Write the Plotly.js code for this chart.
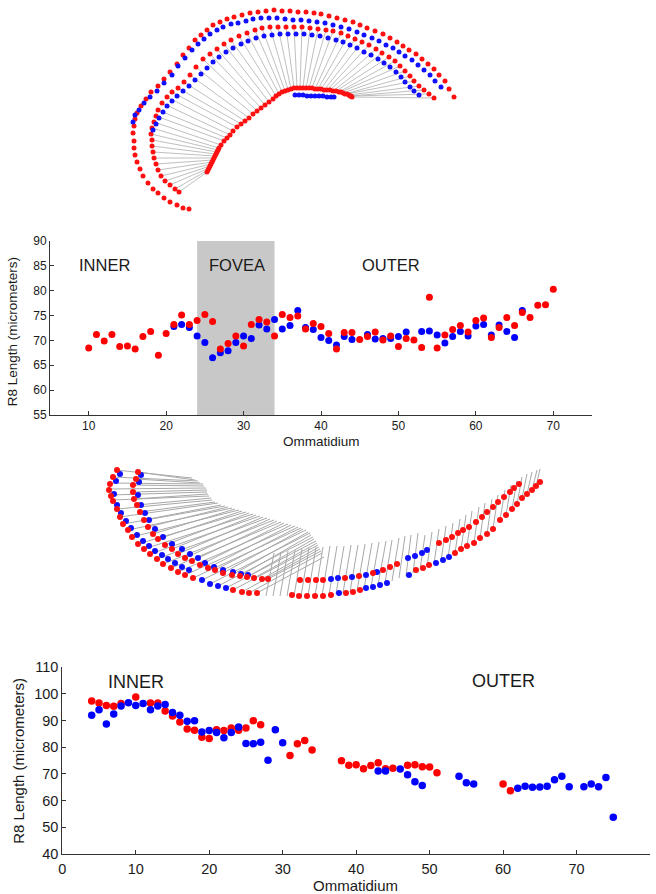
<!DOCTYPE html>
<html><head><meta charset="utf-8">
<script src="https://cdn.plot.ly/plotly-3.0.1.min.js"></script>
<style>html,body{margin:0;padding:0;background:#fff;} #chart{width:656px;height:894px;}</style>
</head><body><div id="chart"></div>
<script>
// ---------- Chart 1 (top scatter) ----------
const c1RedX = [10,11,12,13,14,15,16,17,18,19,20,21,22,23,24,25,26,27,28,29,30,31,32,33,34,35,36,37,38,39,40,41,42,43,44,45,46,47,48,49,50,51,52,53,54,55,56,57,58,59,60,61,62,63,64,65,66,67,68,69,70];
const c1RedY = [68.5,71.2,69.9,71.2,68.8,68.9,68.3,70.8,71.8,67.0,71.4,73.2,75.1,73.2,74.0,75.2,73.8,68.3,69.4,70.9,68.9,73.2,74.2,73.7,70.9,75.2,74.6,74.9,72.3,73.4,72.8,71.4,68.3,71.6,71.6,70.2,70.8,71.7,70.1,70.9,68.8,70.4,70.1,68.6,78.7,68.5,71.1,72.2,73.0,71.7,74.0,74.5,70.6,72.6,74.6,73.0,75.6,74.6,77.1,77.2,80.3];
const c1BlueX = [21,22,23,24,25,26,27,28,29,30,31,32,33,34,35,36,37,38,39,40,41,42,43,44,46,47,48,49,50,51,53,54,55,56,57,58,59,60,61,62,63,64,65,66];
const c1BlueY = [72.8,73.2,72.6,70.9,69.6,66.5,67.5,67.9,69.6,70.9,70.4,73.1,72.3,74.2,72.3,73.0,76.0,72.6,72.2,70.6,70.0,69.1,70.8,70.2,71.2,70.3,70.4,70.4,70.8,71.7,71.8,71.9,71.1,69.5,70.8,71.8,70.9,72.9,73.2,71.1,73.1,71.8,70.6,76.0];
const c1Ticks = [10,20,30,40,50,60,70];
const c1Fovea = [24,34];

// ---------- Chart 2 (bottom scatter) ----------
const c2RedX = [4,5,6,7,8,10,12,13,14,15,16,17,18,19,20,21,22,23,24,25,26,27,31,32,33,34,38,39,40,41,42,43,44,45,47,48,49,50,51,60,61];
const c2RedY = [97.3,96.5,95.6,95.3,96.3,98.8,96.5,96.5,93.5,91.7,89.4,86.8,86.3,83.7,83.2,86.5,86.2,87.2,86.3,87.2,89.9,88.4,76.9,81.3,82.5,78.9,74.9,73.2,73.4,71.9,73.1,74.2,71.9,72.1,73.2,73.4,72.7,72.6,70.4,66.2,63.7];
const c2BlueX = [4,5,6,7,8,9,10,11,12,13,14,15,16,17,18,19,20,21,22,23,24,25,26,27,28,29,30,43,44,46,47,48,49,54,55,56,62,63,64,65,66,67,68,69,71,72,73,74,75];
const c2BlueY = [91.9,94.0,88.7,92.4,95.4,96.6,95.6,96.3,94.0,95.4,96.0,93.0,91.9,89.7,89.9,85.7,86.2,85.5,83.5,85.5,87.5,81.4,81.3,81.8,75.1,86.5,81.6,71.1,71.1,71.8,69.7,67.0,65.6,69.1,66.7,66.2,64.6,65.4,65.0,65.1,65.4,67.8,69.1,65.2,65.2,66.2,65.2,68.6,53.8];

// ---------- Diagram 1 (top drawing, figure pixel coordinates) ----------
const d1OuterRedX = [189,183,177,170,164,158,153,148,143,140,137,135,134,134,133,134,135,137,141,146,151,158,164,170,177,183,189,195,201,207,213,220,227,234,242,250,258,266,274,282,290,298,306,314,321,329,337,345,353,360,367,375,383,390,397,403,409,416,422,428,434,439,445,449,454];
const d1OuterRedY = [209,208,205,202,198,193,189,183,176,169,162,155,148,141,133,126,119,113,106,99,92,86,79,72,64,55,48,40,35,30,25,22,19,17,15,13,12,11,10,11,11,12,12,13,14,16,18,20,22,25,28,31,34,38,42,46,50,54,59,64,69,75,81,89,97];
const d1OuterBlueX = [133,135,139,144,150,157,164,172,178,185,192,198,204,210,217,223,231,238,246,253,261,269,277,285,293,301,309,317,325,333,341,349,357,364,372,379,386,393,399,405,412,418,424,430,435,441];
const d1OuterBlueY = [122,115,110,103,97,91,83,75,66,58,50,44,39,34,30,27,24,23,21,19,18,18,18,19,20,20,21,22,23,25,27,29,32,35,38,41,45,48,52,56,60,65,70,75,81,87];
const d1InnerRedX = [179,175,170,165,161,158,156,154,153,152,152,151,152,154,156,158,162,167,172,178,184,190,196,203,210,217,224,231,239,247,255,262,270,278,286,294,302,310,318,326,333,341,348,355,362,369,376,382,389,395,400,405,410,414,419,424,429,434];
const d1InnerRedY = [192,189,185,181,176,170,164,158,152,146,140,134,128,122,116,110,103,97,92,88,82,75,67,59,54,49,44,40,36,33,30,28,27,27,27,27,27,28,29,30,31,33,36,39,42,45,49,53,57,61,66,71,76,81,86,90,94,98];
const d1InnerBlueX = [153,156,159,163,167,172,177,183,189,195,201,207,213,219,226,233,241,248,256,264,272,280,288,296,304,312,320,328,336,343,350,357,364,371,378,384,390,396,401,405,410,414,419];
const d1InnerBlueY = [130,124,118,112,106,101,96,91,86,80,74,68,62,57,52,48,44,41,38,36,35,34,34,34,34,35,36,38,40,42,45,48,52,55,59,63,67,72,77,82,87,91,95];
const d1RetinaX = [207,208,209,210,211,212,213,214,215,216,217,218,219,221,224,227,230,233,237,241,245,249,253,257,261,265,269,273,276,279,282,285,288,291,294,297,300,303,306,309,312,315,318,321,324,327,330,333,336,339,341,343,345,347,349,350,351,352];
const d1RetinaY = [172,170,168,166,164,162,160,158,156,154,152,150,148,145,141,138,135,131,127,124,121,118,114,111,108,105,102,99,96,94,92,91,90,89,88,88,88,88,88,88,88,89,89,89,90,90,90,91,91,92,92,93,94,94,95,96,96,97];
const d1RetinaBlueX = [295,299,303,307,311,315,319,323,327,331,334];
const d1RetinaBlueY = [95,95,95,96,96,96,96,96,97,97,97];

// ---------- Diagram 2 (middle drawing, figure pixel coordinates) ----------
const d2RedX = [117,113,110,109,111,113,117,120,123,128,132,138,144,150,157,163,171,178,185,193,233,242,249,257,
  138,136,133,133,134,137,140,144,148,153,158,165,172,178,185,192,200,208,215,223,232,240,247,254,262,268,
  300,308,316,323,345,359,373,383,390,397,
  439,446,452,458,463,469,476,482,487,493,498,504,510,514,519,
  292,299,307,315,323,331,346,353,360,416,423,429,455,461,467,474,480,487,493,500,506,512,517,522,527,532,536,540];
const d2RedY = [470,477,484,490,496,501,509,517,524,530,537,544,549,554,559,564,568,572,575,578,590,592,593,593,
  472,479,485,492,499,505,512,520,527,534,539,545,549,554,558,561,565,568,570,573,575,576,577,578,579,579,
  580,580,580,580,578,576,573,570,567,564,
  543,540,537,533,530,527,522,517,512,507,502,497,492,488,484,
  595,596,596,596,596,595,593,592,590,570,568,565,553,549,546,543,538,534,529,520,515,509,504,498,494,490,486,482];
const d2BlueX = [120,116,114,117,121,126,131,137,143,149,155,162,168,175,182,189,202,210,218,226,
  141,139,138,141,145,149,155,163,172,182,190,198,205,214,223,233,241,248,
  331,338,352,366,377,408,415,422,427,
  339,366,373,380,387,409,436,443,449];
const d2BlueY = [474,481,494,505,513,521,528,535,541,546,551,555,559,563,567,570,580,584,586,588,
  475,482,495,505,513,520,529,537,544,549,554,558,563,567,570,572,574,575,
  579,578,577,575,572,558,556,553,550,
  593,588,587,585,583,575,563,560,557];
const d2RayX0 = [116,113,110,109,111,113,117,120,123,128,132,138,144,150,157,163,171,178,185,193,202,210,218,226,233,242,249,257,
  138,136,133,133,134,137,140,144,148,153,158,165,172,178,185,192,200,208,215,223,232,240,247,254,262,268,
  266,273,280,287,294,301,308,315,322,329,336,343,350,357,364,371,378,385,392,399,406,413,
  420,427,434,441,448,455,461,467,474,480,487,493,500,506,512,517,522,527,532,536];
const d2RayY0 = [470,477,483,489,495,500,509,517,524,530,537,544,549,554,559,564,568,572,575,578,580,584,586,588,590,592,593,593,
  472,479,485,492,499,505,512,520,527,534,539,545,549,554,558,561,565,568,570,573,575,576,577,578,579,579,
  596,596,596,596,596,596,596,596,596,595,594,593,592,591,589,587,585,583,581,578,576,573,
  570,567,564,561,558,553,549,546,543,538,534,529,520,515,509,504,498,494,490,486];
const d2RayX1 = [192,198,203,206,207,209,212,218,225,232,239,246,253,260,267,274,281,288,295,301,306,310,313,316,318,320,322,324,
  195,200,204,207,208,211,215,221,228,235,242,249,256,263,270,277,284,291,298,303,308,311,314,317,319,321,
  274,281,288,295,302,309,316,323,330,337,344,351,358,365,372,379,386,392,399,405,411,418,
  425,432,439,446,453,460,466,472,479,485,492,498,505,511,517,522,527,532,537,540];
const d2RayY1 = [478,481,484,488,492,496,500,503,506,508,510,512,514,516,518,520,522,524,526,528,530,533,537,541,545,549,553,557,
  480,483,486,490,494,498,502,505,507,509,511,513,515,517,519,521,523,525,527,529,532,535,539,543,547,551,
  553,552,551,550,549,548,547,547,546,546,546,545,545,544,543,542,541,540,538,536,535,533,
  535,532,529,526,523,519,515,511,507,503,499,495,490,485,481,477,474,472,470,469];

// ---------- build ----------
function segs(x0, y0, x1, y1) {
  const xs = [], ys = [];
  const n = Math.min(x0.length, y0.length, x1.length, y1.length);
  for (let i = 0; i < n; i++) { xs.push(x0[i], x1[i], null); ys.push(y0[i], y1[i], null); }
  return {x: xs, y: ys};
}
const RED = '#ff1010', BLUE = '#1010ff';
const d1Rays = segs(d1RetinaX, d1RetinaY, d1InnerRedX, d1InnerRedY);
const d2Rays = segs(d2RayX0, d2RayY0, d2RayX1, d2RayY1);

function dots(x, y, color, size, xa, ya) {
  return {type:'scatter', mode:'markers', x:x, y:y, xaxis:xa, yaxis:ya, hoverinfo:'skip',
          marker:{color:color, size:size, line:{width:0}}, cliponaxis:false};
}
const traces = [
  {type:'scatter', mode:'lines', x:d1Rays.x, y:d1Rays.y, xaxis:'x3', yaxis:'y3', hoverinfo:'skip',
   line:{color:'#b8b8b8', width:0.9}},
  dots(d1OuterRedX, d1OuterRedY, RED, 5, 'x3', 'y3'),
  dots(d1OuterBlueX, d1OuterBlueY, BLUE, 5, 'x3', 'y3'),
  dots(d1InnerRedX, d1InnerRedY, RED, 5, 'x3', 'y3'),
  dots(d1InnerBlueX, d1InnerBlueY, BLUE, 5, 'x3', 'y3'),
  dots(d1RetinaBlueX, d1RetinaBlueY, BLUE, 5, 'x3', 'y3'),
  dots(d1RetinaX, d1RetinaY, RED, 5, 'x3', 'y3'),
  {type:'scatter', mode:'lines', x:d2Rays.x, y:d2Rays.y, xaxis:'x3', yaxis:'y3', hoverinfo:'skip',
   line:{color:'#a8a8a8', width:1}},
  dots(d2BlueX, d2BlueY, BLUE, 6, 'x3', 'y3'),
  dots(d2RedX, d2RedY, RED, 6, 'x3', 'y3'),
  dots(c1BlueX, c1BlueY, '#0000ff', 7, 'x', 'y'),
  dots(c1RedX, c1RedY, '#ff0000', 7, 'x', 'y'),
  dots(c2RedX, c2RedY, '#ff0000', 7.5, 'x2', 'y2'),
  dots(c2BlueX, c2BlueY, '#0000ff', 7.5, 'x2', 'y2')
];

const FONT = 'Liberation Sans, Arial, Helvetica, sans-serif';
const TXT = '#1a1a1a';
function ax(extra) {
  return Object.assign({showline:true, linecolor:'#333', linewidth:1, ticks:'inside', ticklen:4,
    tickcolor:'#333', showgrid:false, zeroline:false, fixedrange:true}, extra);
}
function note(text, xref, yref, x, y, size, angle) {
  return {text:text, xref:xref, yref:yref, x:x, y:y, showarrow:false, textangle:angle || 0,
          xanchor:'center', yanchor:'middle', font:{size:size, color:TXT}};
}
const W = 656, H = 894;
const layout = {
  width:W, height:H, margin:{l:0, r:0, t:0, b:0},
  paper_bgcolor:'#ffffff', plot_bgcolor:'rgba(0,0,0,0)', showlegend:false,
  font:{family:FONT, color:TXT},
  xaxis: ax({domain:[50/W, 592/W], range:[5,75], tickvals:c1Ticks, anchor:'y', tickfont:{size:12}}),
  yaxis: ax({domain:[1-415/H, 1-241/H], range:[55,90], dtick:5, anchor:'x', tickfont:{size:12}}),
  xaxis2: ax({domain:[62.3/W, 650/W], range:[0,80], dtick:10, anchor:'y2', tickfont:{size:14.5}, ticklabelstandoff:2}),
  yaxis2: ax({domain:[1-854/H, 1-667/H], range:[40,110], dtick:10, anchor:'x2', tickfont:{size:14.5}}),
  xaxis3: {domain:[0,1], range:[0,W], visible:false, anchor:'y3', fixedrange:true},
  yaxis3: {domain:[0,1], range:[H,0], visible:false, anchor:'x3', fixedrange:true},
  shapes:[{type:'rect', xref:'x', yref:'y', x0:c1Fovea[0], x1:c1Fovea[1], y0:55, y1:90,
           fillcolor:'#c8c8c8', line:{width:0}, layer:'below'}],
  annotations:[
    note('INNER', 'x', 'y', 12.1, 85.2, 16.5),
    note('FOVEA', 'x', 'y', 29.2, 85.2, 16.5),
    note('OUTER', 'x', 'y', 49.0, 85.2, 16.5),
    note('INNER', 'x2', 'y2', 10, 104.4, 18),
    note('OUTER', 'x2', 'y2', 60, 104.8, 18),
    note('R8 Length (micrometers)', 'paper', 'paper', 12.5/W, 1-331.7/H, 13.5, -90),
    note('Ommatidium', 'paper', 'paper', 321.7/W, 1-441.7/H, 13.5),
    note('R8 Length (micrometers)', 'paper', 'paper', 19/W, 1-760.8/H, 15, -90),
    note('Ommatidium', 'paper', 'paper', 355.3/W, 1-885.2/H, 15)
  ]
};
Plotly.newPlot('chart', traces, layout, {displayModeBar:false, staticPlot:true});
</script></body></html>
